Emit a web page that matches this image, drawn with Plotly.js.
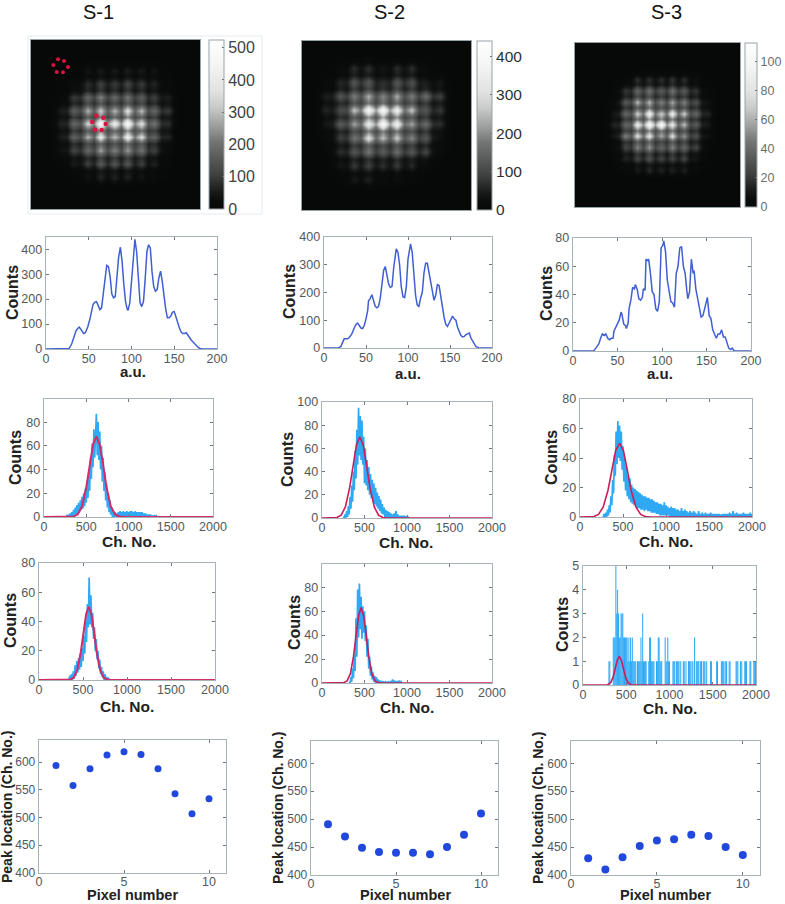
<!DOCTYPE html>
<html><head><meta charset="utf-8">
<script src="https://cdn.plot.ly/plotly-3.0.1.min.js"></script>
<style>html,body{margin:0;padding:0;background:#fff}#c{width:785px;height:904px}</style>
</head><body><div id="c"></div>
<script>
// ---------- sample names ----------
const sampleNames = ['S-1','S-2','S-3'];

// ---------- intensity maps (counts on a half-lattice grid) ----------
const imgS1 = [
[0,1,1,2,2,7,4,8,4,8,4,9,5,8,4,7,2,1,0],
[1,3,3,8,9,45,20,55,22,55,22,60,24,55,20,45,10,8,1],
[1,3,3,9,10,28,18,38,20,35,20,42,21,35,16,26,9,7,1],
[2,8,9,25,28,80,51,110,57,100,59,120,59,100,46,70,24,20,4],
[1,6,11,34,29,73,44,92,46,78,45,89,44,73,33,49,19,22,4],
[3,15,31,100,78,190,113,230,113,190,108,210,103,170,76,110,46,60,12],
[4,20,25,73,55,130,76,151,76,130,77,157,77,127,56,81,33,43,9],
[12,60,62,170,124,290,167,330,167,290,178,370,181,300,132,190,78,100,20],
[7,35,36,97,72,170,106,224,112,192,114,232,112,181,78,108,42,49,10],
[14,70,70,190,143,340,227,500,248,420,246,490,232,370,157,210,78,80,16],
[7,35,36,100,73,170,112,243,118,194,120,248,120,197,82,105,39,41,8],
[12,60,65,180,127,290,186,400,189,300,197,430,213,360,146,180,67,70,14],
[5,27,29,81,57,130,84,181,87,143,89,186,92,154,63,78,28,27,5],
[8,40,43,120,84,190,124,270,135,230,132,260,127,210,86,110,38,30,6],
[3,13,15,43,32,76,50,111,56,97,55,105,50,81,33,43,15,11,2],
[2,10,15,55,40,110,62,160,73,150,70,150,60,110,40,65,18,12,2],
[1,3,4,13,12,31,22,51,27,47,25,47,21,32,14,18,6,4,1],
[1,3,3,10,12,40,24,70,30,65,28,65,24,45,16,25,6,4,1],
[0,1,1,2,2,7,5,14,7,12,6,12,5,8,3,4,1,1,0]];
const imgS2 = [
[0,1,1,4,5,14,7,14,6,8,6,14,7,14,5,4,1,1,0],
[0,2,6,20,24,70,30,70,25,40,25,70,30,70,24,22,6,3,1],
[1,3,6,20,19,49,26,49,21,27,21,49,26,46,17,18,8,12,2],
[2,10,19,60,51,130,70,130,54,70,54,130,68,120,46,50,24,40,8],
[3,16,18,51,37,86,50,100,47,73,47,100,50,84,39,59,25,35,7],
[10,50,49,130,86,190,116,240,119,200,119,240,116,190,97,170,70,90,18],
[6,30,26,65,51,124,80,173,92,167,90,165,78,124,55,81,34,46,9],
[12,60,46,110,103,270,181,400,221,420,213,370,173,270,108,130,57,80,16],
[5,27,26,68,55,135,91,203,117,230,117,203,91,135,58,81,33,41,8],
[8,40,49,140,100,230,157,350,211,430,219,380,165,230,108,170,65,70,14],
[3,16,21,62,47,111,79,181,99,186,99,178,80,116,53,81,29,27,5],
[4,20,30,90,73,180,135,320,157,260,146,280,130,200,89,130,43,30,6],
[1,7,14,43,34,84,59,135,66,108,62,122,57,89,41,62,20,14,3],
[1,5,20,70,54,130,84,180,86,140,84,170,81,130,62,100,32,20,4],
[1,2,8,27,22,54,33,70,33,54,32,65,31,49,22,32,10,6,1],
[1,3,10,40,30,85,42,95,40,72,38,85,35,62,20,25,6,3,1],
[0,1,3,9,10,27,16,32,14,20,12,24,11,16,6,6,2,1,0],
[0,1,3,8,12,45,22,55,18,22,12,30,10,12,4,3,1,1,0],
[0,0,1,1,2,8,5,11,4,4,2,5,2,2,1,1,0,0,0]];
const imgS3 = [
[0,0,0,1,1,3,2,3,2,3,2,4,2,3,1,1,1,0,0],
[0,1,1,4,5,18,8,18,8,18,8,20,8,18,6,7,2,1,0],
[0,1,2,6,5,14,8,15,8,13,8,16,8,13,5,7,2,1,0],
[0,2,6,20,16,40,23,45,22,35,22,45,22,35,15,20,6,3,1],
[0,2,5,15,12,28,16,30,14,23,14,28,14,23,10,14,4,3,1],
[1,5,11,35,27,65,35,65,31,50,30,60,30,50,22,30,10,8,2],
[1,4,7,20,15,36,22,43,21,32,20,41,20,32,14,19,7,6,1],
[2,10,14,40,30,70,45,95,45,70,43,90,43,70,30,40,15,15,3],
[1,7,8,22,18,43,26,54,28,49,26,47,23,36,15,20,8,7,1],
[3,15,15,40,35,90,53,105,58,110,53,85,41,65,27,35,13,12,2],
[1,7,8,24,19,46,26,51,26,46,25,45,21,32,14,18,6,5,1],
[2,10,16,50,35,80,45,85,39,60,38,80,36,55,23,30,10,8,2],
[1,4,6,20,15,35,20,38,18,27,17,35,16,26,11,15,5,3,1],
[1,5,8,25,20,50,28,55,26,40,24,50,24,40,18,25,8,3,1],
[0,2,4,11,8,20,12,23,11,18,10,20,10,18,7,9,3,1,0],
[0,2,5,15,11,25,15,30,15,25,14,25,14,25,9,10,3,2,0],
[0,1,2,5,4,9,5,11,6,9,5,9,5,9,3,4,1,1,0],
[0,1,1,4,4,12,6,16,7,14,6,14,6,14,4,4,1,1,0],
[0,0,0,1,1,2,1,3,2,3,1,3,1,3,1,1,0,0,0]];
const ring1X = [27,33,37,32,25.7,22.3];
const ring1Y = [19.3,21,27,32.3,32,25];
const ring2X = [65.3,72.3,74.7,70.7,64,61.3];
const ring2Y = [75.7,77.7,84,90,89.7,82];

// ---------- row 2: line profiles ----------
const profX1 = [0,25,27,30,33,35,37,39,41,44,46,49,51,53,55,57,59,61,63,65,67,69,71,73,75,77,79,81,83,85,87,89,91,93,95,96,98,100,102,104,106,108,110,112,114,116,118,120,122,124,126,128,130,132,134,136,138,140,142,144,146,148,150,152,154,156,158,160,162,164,166,168,170,172,175,178,180,183,200];
const profY1 = [0,0,2,20,50,72,82,88,78,62,65,90,115,150,178,188,190,175,158,165,220,290,335,330,290,220,205,210,290,370,408,350,260,190,160,155,185,280,380,440,390,270,185,170,190,280,390,418,405,310,250,232,238,285,312,270,205,160,125,125,132,148,150,125,110,85,68,62,62,65,55,42,35,28,15,6,2,0,0];
const profX2 = [0,17,20,22,24,26,28,30,33,36,38,40,42,44,46,48,50,52,53,55,57,59,61,63,65,67,69,71,73,75,77,79,81,83,85,86,88,90,92,94,96,98,100,102,103,105,107,109,111,113,115,117,119,121,123,125,127,129,131,133,135,137,139,141,143,145,147,149,151,153,155,157,159,161,163,165,167,169,171,173,175,177,179,181,184,200];
const profY2 = [0,0,5,18,33,33,33,38,50,72,85,90,82,72,70,82,105,135,170,178,192,170,150,145,150,180,235,280,293,265,230,218,222,290,340,357,345,300,220,185,182,220,320,370,375,345,260,190,155,150,180,200,270,305,305,270,230,195,172,190,228,225,185,150,110,85,78,90,105,115,105,100,75,60,45,40,42,48,50,54,35,25,12,5,1,0];
const profX3 = [0,23,25,27,29,31,33,35,37,39,41,43,45,46,48,50,52,54,55,57,59,60,62,63,65,67,69,70,72,74,76,78,79,81,82,84,85,87,89,91,93,95,97,99,101,102,104,106,108,110,112,114,116,118,120,122,124,126,128,129,131,133,135,136,138,140,142,144,146,148,150,151,153,155,157,159,161,163,165,167,169,171,173,175,177,179,181,200];
const profY3 = [0,0,1.5,3,5,9,12,11,12,9,8,9,9,14,17,20,22,27.5,26,19,18,16,20,30,36,45,44,47,44,37,36,38,44,43,65,64,65,55,42,40,30,28,35,73,75,78,70,50,42,35,34,31,55,60,73,74,60,55,42,37,42,65,55,57,44,38,30,24,25,30,35,38,25,23,15,12,9,12,12,15,10,10,6,2,1,2,0,0];

// ---------- rows 3 and 4: noisy spectra (blue) read every 10 channels, and fits (red) ----------
const histA1 = [0,1,0,2,0,3,0,4,1,6,1,8,2,10,3,12,4,14,6,17,7,20,9,24,12,30,16,38,22,50,32,62,42,74,50,78,87,52,80,48,72,40,60,30,50,22,38,14,28,8,20,4,14,2,8,0,5,0,4,0,3,0,4,0,5,0,4,1,5,0,4,0,5,1,4,0,5,1,5,0,4,0,5,0,4,0,4,0,4,0,4,0,3,0,3,0,2,0,2,0,2,0,1,1,0,1,0,1,0];
const histA2 = [1,0,3,0,6,1,10,3,18,8,28,14,40,24,58,34,76,46,95,54,88,50,84,46,70,30,60,28,50,24,44,20,38,17,33,14,30,12,26,10,22,8,19,6,16,4,12,3,9,1,7,0,6,0,5,0,4,0,3,0,4,0,6,0,3,0,2,0,2,0,2,0,2,0,1,0,1,0];
const histA3 = [0,2,0,3,0,5,1,8,3,14,8,25,16,42,28,58,36,65,40,62,38,58,32,48,24,40,18,34,14,28,12,26,10,22,9,20,8,19,7,18,6,17,6,16,5,15,5,14,4,14,5,13,4,13,4,12,3,12,3,11,3,10,2,10,2,9,1,9,1,8,1,10,1,8,1,7,1,6,0,7,0,6,0,6,0,5,0,5,0,4,0,6,0,4,0,5,0,4,0,3,0,4,0,3,0,4,0,3,0,2,0,4,0,2,0,3,0,2,0,3,0,2,0,2,0,3,0,2,0,2,0,2,0,2,0,2,0,1,0,2,0,2,0,2,0,2,0,3,0,2,0,4,0,2,0,3,0,2,0,2,0,2,0,3,0,2,0,2,0,2,0,3,0,2];
const histB1 = [1,0,3,0,4,0,6,1,10,3,13,5,15,7,18,9,22,13,30,18,40,26,52,36,70,38,58,36,46,28,36,20,28,14,20,8,14,4,9,2,6,0,4,0,2,0,1,0];
const histB2 = [1,0,5,1,12,4,24,10,54,22,78,38,83,45,72,37,64,42,60,35,48,22,37,12,22,6,14,3,9,1,6,0,5,0,3,0,2,0,1,0,1,0,0,1,0,0,1,0,0,1,0,3,0,2,0,1,0,1,0,2,0,1,0];
const barCh = [300,310,
 350,360,370,380,390,400,410,420,430,440,450,460,470,480,490,500,510,520,530,540,550,560,570,580,590,
 600,610,630,640,650,660,670,680,690,700,710,720,730,
 760,770,780,790,800,810,820,850,860,870,880,890,900,910,
 950,960,970,980,990,1000,1040,1050,1060,1080,1090,1100,1110,1130,
 1160,1170,1190,1220,1230,1240,1260,1270,1290,1310,1320,1330,1340,1360,1370,1390,1400,1410,1430,
 1475,1485,1545,1555,1600,1610,1620,1630,1650,1660,1690,1700,
 1770,1780,1790,1820,1835,1870,1880,1890,1930,1940,1975,1985,1995];
const barCount = [1,1,
 2,2,2,5,3,4,3,2,2,3,3,3,2,2,2,2,2,1,2,1,2,1,2,1,1,
 1,1,1,1,1,1,2,1,3,1,1,1,1,
 1,2,2,1,1,1,1,1,1,2,2,1,1,1,
 2,1,1,2,1,1,1,1,1,1,1,1,1,1,
 1,1,1,1,1,1,1,1,2,1,1,1,1,1,1,1,1,1,1,
 1,1,1,1,1,1,1,1,1,1,1,1,
 1,1,1,1,1,1,1,1,1,1,1,1,1];
const fitAx1 = [0,300,350,400,450,500,540,580,620,660,700,740,790,840,890,950,2000];
const fitAy1 = [0,0,0.4,2.4,9,25,44,61,68,61,44,25,9,2.4,0.4,0,0];
const fitAx2 = [0,130,175,225,275,325,365,405,445,485,525,565,615,665,715,770,2000];
const fitAy2 = [0,0,0.4,2.4,9.5,26,45,63,70,63,45,26,9.5,2.4,0.4,0,0];
const fitAx3 = [0,110,160,215,270,325,370,415,460,505,550,595,650,705,760,820,2000];
const fitAy3 = [0,0,0.3,1.8,6.8,18,32,45,50,45,32,18,6.8,1.8,0.3,0,0];
const fitBx1 = [0,320,355,395,435,475,505,535,565,595,625,655,695,735,775,820,2000];
const fitBy1 = [0,0,0.3,1.6,6.8,19,33,45,50,45,33,19,6.8,1.6,0.3,0,0];
const fitBx2 = [0,220,260,295,335,370,400,430,460,490,520,550,585,625,660,700,2000];
const fitBy2 = [0,0,0.4,1.8,8,22,40,56,63,56,40,22,8,1.8,0.4,0,0];
const fitBx3 = [0,250,285,320,345,370,395,420,445,470,495,520,555,590,2000];
const fitBy3 = [0,0,0.013,0.1,0.3,0.65,1.03,1.2,1.03,0.65,0.3,0.1,0.013,0,0];

// ---------- row 5: peak locations ----------
const pixelNo = [1,2,3,4,5,6,7,8,9,10];
const peakS1 = [594,558,588,613,619,614,588,543,507,534];
const peakS2 = [491,469,449,441,440,440,437,450,472,510];
const peakS3 = [430,410,432,452,462,464,472,470,450,436];

// ---------- helpers ----------
const W=785,H=904, FONT='"Liberation Sans", Arial, sans-serif';
const data=[], annotations=[], shapes=[{type:'rect',xref:'paper',yref:'paper',x0:28/W,x1:262/W,y0:1-214/H,y1:1-36/H,line:{color:'#e6ecef',width:1},layer:'below'}];
const layout={
  width:W,height:H,paper_bgcolor:'#fff',plot_bgcolor:'#fff',showlegend:false,
  margin:{l:0,r:0,t:0,b:0,autoexpand:false},font:{family:FONT},annotations,shapes
};
let nAx=0;
function axes(box,xo,yo){
  nAx++; const s=nAx===1?'':nAx;
  const base={domain:[0,1],showgrid:false,zeroline:false,showline:true,linecolor:'#a8b3b7',linewidth:1.3,
    mirror:'ticks',ticks:'inside',ticklen:3,tickcolor:'#6f7a7e',tickwidth:1,
    tickfont:{family:FONT,size:12.5,color:'#50585c'}};
  layout['xaxis'+s]=Object.assign({},base,{domain:[box[0]/W,box[1]/W],anchor:'y'+s,ticklabelstandoff:-2},xo);
  layout['yaxis'+s]=Object.assign({},base,{domain:[1-box[3]/H,1-box[2]/H],anchor:'x'+s},yo);
  return {xaxis:'x'+s,yaxis:'y'+s};
}
function label(text,x,y,size,angle){
  annotations.push({text:'<b>'+text+'</b>',xref:'paper',yref:'paper',x:x/W,y:1-y/H,xanchor:'center',yanchor:'middle',
    borderpad:0,showarrow:false,textangle:angle||0,font:{family:FONT,size:size,color:'#222'}});
}
function heat(box,z,zmax,dtick,x0,dx,y0,dy,bar,tickSize,tickColor){
  const w=box[1]-box[0],h=box[3]-box[2];
  const off={showticklabels:false,ticks:'',mirror:true,linecolor:'#98a3a7'};
  const a=axes(box,Object.assign({range:[0,w]},off),Object.assign({range:[h,0]},off));
  shapes.push({type:'rect',xref:'paper',yref:'paper',x0:box[0]/W,x1:box[1]/W,y0:1-box[3]/H,y1:1-box[2]/H,
    fillcolor:'#070808',line:{width:0},layer:'below'});
  data.push(Object.assign({type:'heatmap',z,x0,dx,y0,dy,zmin:0,zmax,zsmooth:'best',hoverinfo:'skip',
    colorscale:[[0,'#070808'],[0.05,'#0b0c0c'],[0.1,'#181919'],[0.2,'#3e4040'],[0.3,'#585a5a'],[0.4,'#747676'],[0.5,'#a0a2a2'],[0.6,'#c8c9c9'],[0.7,'#e2e2e2'],[0.85,'#f4f4f4'],[1,'#ffffff']],
    colorbar:{x:bar[0]/W,xanchor:'left',xpad:0,y:1-box[2]/H,yanchor:'top',ypad:0,lenmode:'pixels',len:h,
      thicknessmode:'pixels',thickness:bar[1],outlinewidth:1,outlinecolor:'#98a3a7',ticks:'inside',ticklen:2,tickcolor:'#666',
      dtick,tick0:0,tickfont:{family:FONT,size:tickSize,color:tickColor}}},a));
  return a;
}
function profile(box,x,y,ymax,ydt){
  const a=axes(box,{range:[0,200],dtick:50,tick0:0},{range:[0,ymax],dtick:ydt,tick0:0});
  data.push(Object.assign({type:'scatter',mode:'lines',x,y,line:{color:'#3f5fd2',width:1.5},hoverinfo:'skip'},a));
}
function spectrum(box,ymax,ydt,hist,hx0,hdx,fx,fy,fitColor,fitWidth){
  const a=axes(box,{range:[0,2000],dtick:500,tick0:0},{range:[0,ymax],dtick:ydt,tick0:0});
  data.push(Object.assign({type:'scatter',mode:'lines',x0:hx0,dx:hdx,y:hist,
    line:{color:'#2fa9f4',width:1.7},hoverinfo:'skip'},a));
  data.push(Object.assign({type:'scatter',mode:'lines',x:fx,y:fy,line:{color:fitColor||'#c81e5c',width:fitWidth||1.6},hoverinfo:'skip'},a));
}
function peaks(box,y,size){
  const a=axes(box,{range:[0,11],tickvals:[0,5,10],ticklabelstandoff:-3},{range:[400,640],dtick:50,tick0:400,tickfont:{family:FONT,size:12,color:'#50585c'}});
  data.push(Object.assign({type:'scatter',mode:'markers',x:pixelNo,y,marker:{color:'#2148dc',size},hoverinfo:'skip'},a));
}

// ---------- row 1 ----------
const a1=heat([31,200,40,209],imgS1,524,100,22.25,6.75,23.3,6.7,[209,15],16,'#3c4245');
data.push(Object.assign({type:'scatter',mode:'markers',x:ring1X,y:ring1Y,marker:{color:'#d8143f',size:4},hoverinfo:'skip'},a1));
data.push(Object.assign({type:'scatter',mode:'markers',x:ring2X,y:ring2Y,marker:{color:'#d8143f',size:4.5},hoverinfo:'skip'},a1));
heat([302,471,41,210],imgS2,440,100,15.8,7.2,20,7,[477,15],15.5,'#2b2f31');
heat([575,740,43,207],imgS3,113,20,32,5.95,30.3,5.7,[745,12],12.5,'#667074');

// ---------- row 2 ----------
profile([46,217,237,349],profX1,profY1,449,100);
profile([324,492,237,348],profX2,profY2,400,100);
profile([573,751,238,351],profX3,profY3,80,20);
// ---------- row 3 ----------
spectrum([44,213,399,517],99.5,20,histA1,260,10,fitAx1,fitAy1,'#d42a68',2);
spectrum([322,492,402,518],100,20,histA2,250,10,fitAx2,fitAy2);
spectrum([580,752,399,517],80,20,histA3,270,10,fitAx3,fitAy3);
// ---------- row 4 ----------
spectrum([39,215,563,680],80,20,histB1,330,10,fitBx1,fitBy1,'#d42a68',2);
spectrum([322,492,564,683],99.4,20,histB2,320,10,fitBx2,fitBy2);
{
  const a=axes([583,756,566,685],{range:[0,2000],dtick:500,tick0:0},{range:[0,5],dtick:1,tick0:0});
  data.push(Object.assign({type:'bar',x:barCh,y:barCount,width:12,marker:{color:'#2fa9f4',line:{width:0}},hoverinfo:'skip'},a));
  data.push(Object.assign({type:'scatter',mode:'lines',x:fitBx3,y:fitBy3,line:{color:'#c81e5c',width:1.6},hoverinfo:'skip'},a));
}
// ---------- row 5 ----------
peaks([39,226,740,873],peakS1,7);
peaks([311,498,741,875],peakS2,8);
peaks([571,760,741,875],peakS3,8);

// ---------- text ----------
[98,389,666].forEach((x,i)=>annotations.push({text:sampleNames[i],xref:'paper',yref:'paper',x:x/W,y:1,
  xanchor:'center',yanchor:'top',borderpad:0,showarrow:false,font:{family:FONT,size:20,color:'#111'}}));
[[133,371],[408,374],[660,374]].forEach(p=>label('a.u.',p[0],p[1],15));
[[129,541],[406,542],[666,541],[127,706],[407,707],[670,708]].forEach(p=>label('Ch. No.',p[0],p[1],15.5));
[[12,293],[290,292],[546,294],[16,458],[287,460],[552,458],[10,621],[294,623],[562,625]].forEach(p=>label('Counts',p[0],p[1],16,-90));
[[7,807],[278,808],[538,808]].forEach(p=>label('Peak location (Ch. No.)',p[0],p[1],14,-90));
[[132,895],[405,895],[665,895]].forEach(p=>label('Pixel number',p[0],p[1],14.5));

Plotly.newPlot('c',data,layout,{staticPlot:true,displayModeBar:false});
</script>
</body></html>
